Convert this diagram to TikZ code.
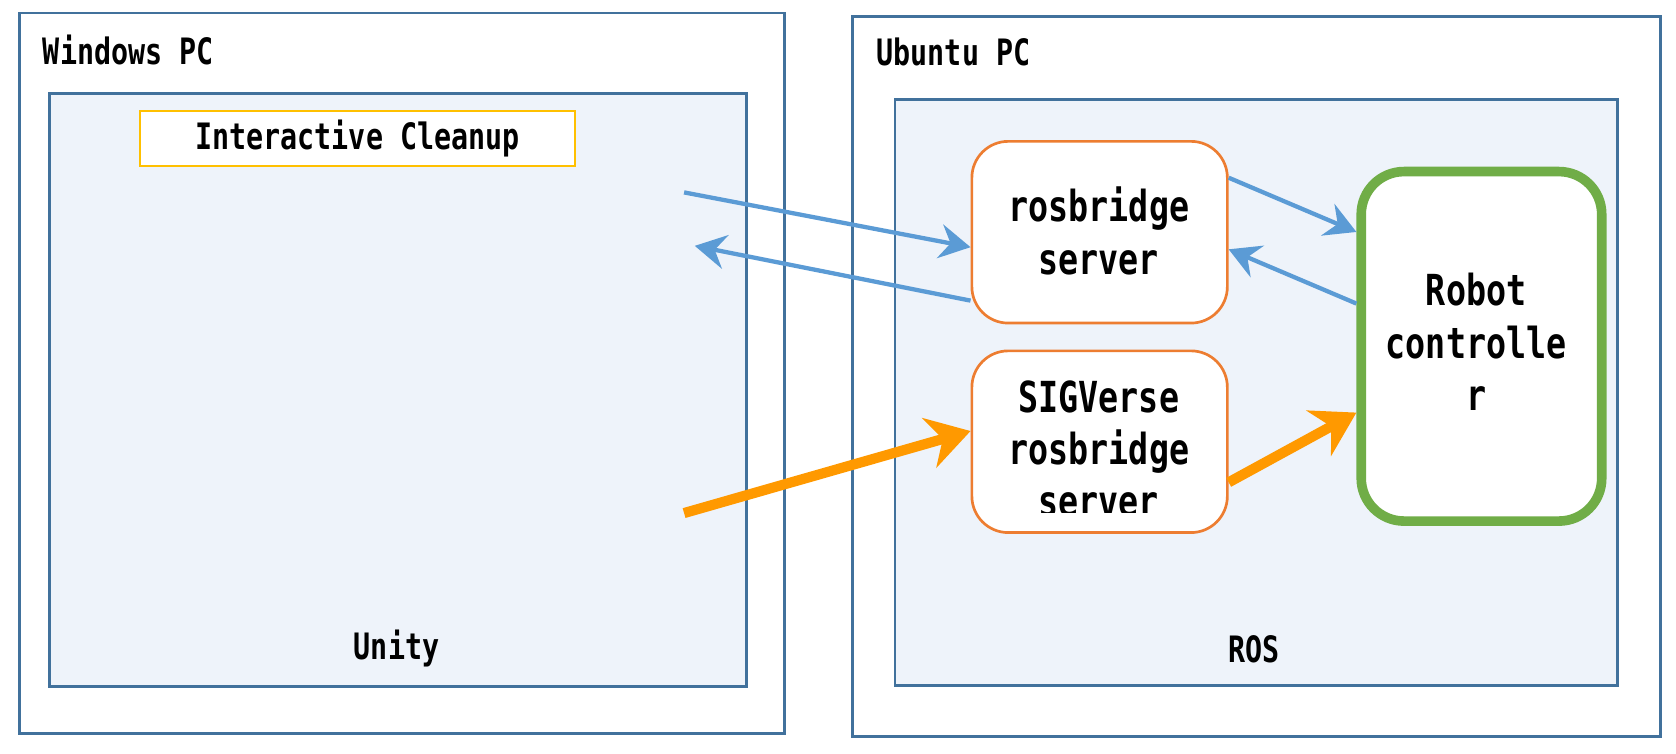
\documentclass[tikz,border=0pt]{standalone}
\usepackage{fontspec}
\newfontfamily\gfont[FakeStretch=0.78]{DejaVu Sans Mono}
\usetikzlibrary{arrows.meta}
\definecolor{frameblue}{HTML}{41719C}
\definecolor{innerfill}{HTML}{EEF3FA}
\definecolor{linkblue}{HTML}{5B9BD5}
\definecolor{dataorange}{HTML}{FF9900}
\definecolor{boxorange}{HTML}{ED7D31}
\definecolor{ctrlgreen}{HTML}{70AD47}
\definecolor{titleyellow}{HTML}{FFC000}
\tikzset{
  pcbox/.style={draw=frameblue, line width=2.5pt, fill=white, anchor=north west, inner sep=0pt},
  envbox/.style={draw=frameblue, line width=2.5pt, fill=innerfill, anchor=north west, inner sep=0pt},
  srvbox/.style={draw=boxorange, line width=2.5pt, fill=white, rounded corners=34pt, anchor=north west, inner sep=0pt},
  ctrlbox/.style={draw=ctrlgreen, line width=9pt, fill=white, rounded corners=40pt, anchor=north west, inner sep=0pt},
  lbl/.style={font=\gfont\bfseries\fontsize{34}{40}\selectfont, inner sep=0pt},
  boxtxt/.style={font=\gfont\bfseries\fontsize{40}{49}\selectfont, align=center, inner sep=0pt},
  barrow/.style={draw=linkblue, line width=4pt, -{Stealth[length=29pt,width=32pt,inset=10pt]}},
  oarrow/.style={draw=dataorange, line width=9.5pt, -{Stealth[length=40pt,width=48pt,inset=13pt]}},
}
\begin{document}
\begin{tikzpicture}[x=1pt,y=-1pt]
\useasboundingbox (0,0) rectangle (1568,704.5);
% Windows PC
\node[pcbox, minimum width=716pt, minimum height=674pt] (win) at (17,11) {};
\node[lbl, anchor=west] (wintxt) at (40,47) {Windows PC};
\node[envbox, minimum width=652pt, minimum height=555pt] (unity) at (45,86) {};
\node[draw=titleyellow, line width=2pt, fill=white, anchor=north west, minimum width=407pt, minimum height=51pt, inner sep=0pt] (ic) at (130,103) {};
\node[lbl] (ictxt) at (ic.center) {Interactive Cleanup};
\node[lbl] (unitytxt) at (371,607) {Unity};
% Ubuntu PC
\node[pcbox, minimum width=756pt, minimum height=674pt] (ubu) at (796,14) {};
\node[lbl, anchor=west] (ubutxt) at (820,49) {Ubuntu PC};
\node[envbox, minimum width=676pt, minimum height=548pt] (ros) at (836,92) {};
\node[lbl] (rostxt) at (1173,607) {ROS};
% servers
\node[srvbox, minimum width=239pt, minimum height=170pt] (rb) at (908,131) {};
\node[boxtxt] (rbtxt) at (1028,216) {rosbridge\\server};
\node[srvbox, minimum width=239pt, minimum height=170pt] (sig) at (908,327) {};
\begin{scope}
  \clip (908,327) rectangle (1147,479);
  \node[boxtxt] (sigtxt) at (1028,420) {SIGVerse\\rosbridge\\server};
\end{scope}
\node[ctrlbox, minimum width=225pt, minimum height=327pt] (robot) at (1269,156) {};
\node[boxtxt] (robottxt) at (1381,320) {Robot\\controlle\\r};
% free ends
\coordinate (u1) at (640,180);
\coordinate (u2) at (650,230);
\coordinate (u3) at (640,480);
% arrows
\draw[barrow] (u1) -- ([yshift=-14pt]rb.west);
\draw[barrow] ([yshift=-64pt]rb.west) -- (u2);
\draw[barrow] ([yshift=51pt]rb.east) -- ([yshift=107pt]robot.west);
\draw[barrow] ([yshift=40pt]robot.west) -- ([yshift=-16pt]rb.east);
\draw[oarrow] (u3) -- ([yshift=10pt]sig.west);
\draw[oarrow] ([yshift=-38pt]sig.east) -- ([yshift=-62pt]robot.west);
\end{tikzpicture}
\end{document}
